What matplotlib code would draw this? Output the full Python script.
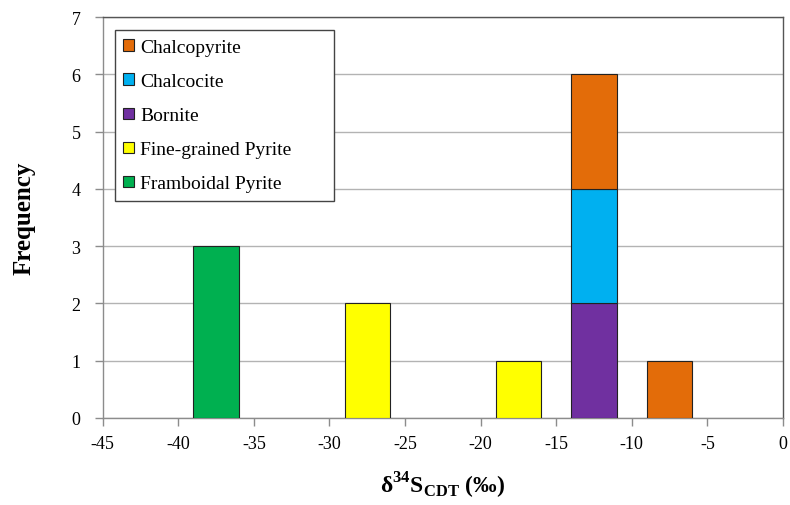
import matplotlib
matplotlib.use('Agg')
import matplotlib.pyplot as plt
import numpy as np

plt.rcParams['font.family'] = ['Liberation Serif', 'DejaVu Serif']
plt.rcParams['mathtext.fontset'] = 'custom'
plt.rcParams['mathtext.rm'] = 'Liberation Serif:bold'
plt.rcParams['mathtext.bf'] = 'Liberation Serif:bold'
plt.rcParams['axes.unicode_minus'] = False

# bin centres (5 permil bins from -45 to 0) and counts per mineral
bin_centers = [-42.5, -37.5, -32.5, -27.5, -22.5, -17.5, -12.5, -7.5, -2.5]
framboidal = [0, 3, 0, 0, 0, 0, 0, 0, 0]
fine_grained = [0, 0, 0, 2, 0, 1, 0, 0, 0]
bornite = [0, 0, 0, 0, 0, 0, 2, 0, 0]
chalcocite = [0, 0, 0, 0, 0, 0, 2, 0, 0]
chalcopyrite = [0, 0, 0, 0, 0, 0, 2, 1, 0]

series = [
    ('Framboidal Pyrite', framboidal, '#00B050'),
    ('Fine-grained Pyrite', fine_grained, '#FFFF00'),
    ('Bornite', bornite, '#7030A0'),
    ('Chalcocite', chalcocite, '#00B0F0'),
    ('Chalcopyrite', chalcopyrite, '#E36C09'),
]

fig = plt.figure(figsize=(7.9, 5.06), dpi=100)
ax = fig.add_axes([0.130, 0.172, 0.861, 0.792])

centers = np.array(bin_centers, dtype=float)
bottom = np.zeros(len(centers))
for name, vals, col in series:
    vals = np.array(vals, dtype=float)
    m = vals > 0
    ax.bar(centers[m], vals[m], width=3, bottom=bottom[m], color=col,
           edgecolor='#222222', linewidth=0.8, label=name, zorder=3)
    bottom += vals

ax.set_xlim(-45, 0)
ax.set_ylim(0, 7)
ax.set_xticks(np.arange(-45, 1, 5))
ax.set_yticks(np.arange(0, 8, 1))
ax.yaxis.grid(True, color='#b3b3b3', linewidth=1, zorder=0)
ax.set_axisbelow(True)

for s in ['left', 'bottom']:
    ax.spines[s].set_color('#8c8c8c')
    ax.spines[s].set_linewidth(1)
for s in ['top', 'right']:
    ax.spines[s].set_color('#555555')
    ax.spines[s].set_linewidth(1)

ax.tick_params(axis='both', colors='#8c8c8c', labelcolor='black',
               labelsize=13, length=6, width=1, direction='out')
ax.tick_params(axis='x', pad=6)
ax.tick_params(axis='y', pad=10)

ax.set_ylabel('Frequency', fontsize=18, fontweight='bold', labelpad=26)
ax.set_xlabel(r'δ$^{34}$S$_{\mathrm{CDT}}$ (‰)', fontsize=17,
              fontweight='bold', labelpad=13)

handles, labels = ax.get_legend_handles_labels()
leg = ax.legend(handles[::-1], labels[::-1], loc='upper left',
                bbox_to_anchor=(0.0176, 0.541, 0.322, 0.4264), mode='expand',
                borderaxespad=0, borderpad=0.45, fontsize=14, labelspacing=0.88,
                handlelength=0.55, handleheight=0.55, handletextpad=0.3,
                fancybox=False, framealpha=1, edgecolor='#444444')
leg.get_frame().set_linewidth(1)

fig.savefig('out.png', dpi=100)
